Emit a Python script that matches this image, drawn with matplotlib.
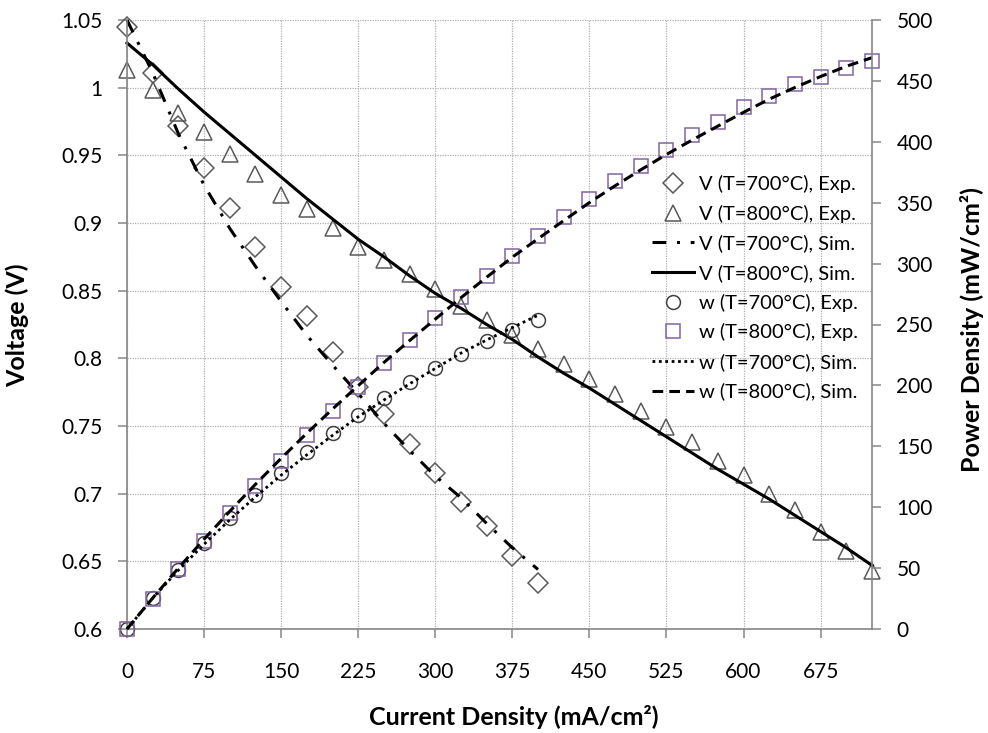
import matplotlib.pyplot as plt
from matplotlib.ticker import FuncFormatter, MultipleLocator

plt.rcParams['font.family'] = ['Lato', 'DejaVu Sans']

# current density (mA/cm2)
i_700 = [0, 25, 50, 75, 100, 125, 150, 175, 200, 225, 250, 275, 300, 325, 350, 375, 400]
i_800 = [0, 25, 50, 75, 100, 125, 150, 175, 200, 225, 250, 275, 300, 325, 350, 375, 400,
         425, 450, 475, 500, 525, 550, 575, 600, 625, 650, 675, 700, 725]

# voltage (V)
v_700_exp = [1.045, 1.011, 0.972, 0.941, 0.911, 0.882, 0.853, 0.831, 0.805, 0.779, 0.759,
             0.737, 0.715, 0.694, 0.676, 0.654, 0.634]
v_800_exp = [1.013, 0.998, 0.981, 0.967, 0.951, 0.936, 0.921, 0.910, 0.896, 0.882, 0.873,
             0.862, 0.851, 0.839, 0.828, 0.817, 0.807, 0.796, 0.785, 0.774, 0.761, 0.749,
             0.738, 0.724, 0.714, 0.700, 0.688, 0.672, 0.658, 0.643]
v_700_sim = [1.050, 1.011, 0.966, 0.928, 0.896, 0.868, 0.842, 0.817, 0.795, 0.774, 0.752,
             0.732, 0.713, 0.697, 0.678, 0.660, 0.644]
v_800_sim = [1.033, 1.017, 0.999, 0.982, 0.966, 0.950, 0.934, 0.918, 0.903, 0.888, 0.875,
             0.861, 0.848, 0.837, 0.825, 0.814, 0.801, 0.789, 0.778, 0.766, 0.754, 0.742,
             0.730, 0.718, 0.707, 0.696, 0.684, 0.672, 0.660, 0.647]

# power density (mW/cm2)
w_700_exp = [0, 25.3, 48.6, 70.6, 91.1, 110.3, 128.0, 145.4, 161.0, 175.3, 189.8, 202.7,
             214.5, 225.6, 236.6, 245.3, 253.6]
w_800_exp = [0, 25.0, 49.1, 72.5, 95.1, 117.0, 138.2, 159.3, 179.2, 198.5, 218.3, 237.1,
             255.3, 272.7, 289.8, 306.4, 322.8, 338.3, 353.3, 367.7, 380.5, 393.2, 405.9,
             416.3, 428.4, 437.5, 447.2, 453.6, 460.6, 466.2]
w_700_sim = [0, 25.3, 48.3, 69.6, 89.6, 108.5, 126.3, 143.0, 159.0, 174.2, 188.0, 201.3,
             213.9, 226.5, 237.3, 247.5, 257.6]
w_800_sim = [0, 25.4, 50.0, 73.7, 96.6, 118.8, 140.1, 160.7, 180.6, 199.8, 218.8, 236.8,
             254.4, 272.0, 288.8, 305.3, 320.4, 335.3, 350.1, 363.9, 377.0, 389.6, 401.5,
             412.9, 424.2, 435.0, 444.6, 453.6, 462.0, 469.1]

spine_col = '#868686'
grid_col = '#b0b0b0'
fs = 15

fig = plt.figure(figsize=(9.88, 7.33), dpi=100)
ax = fig.add_axes([127 / 988, 1 - 629 / 733, 745 / 988, 609 / 733])
ax2 = ax.twinx()

mk = dict(linestyle='none', markerfacecolor='none', markeredgewidth=1.1, clip_on=False)
h1, = ax.plot(i_700, v_700_exp, marker='D', markersize=10, markeredgecolor='#595959',
              label='V (T=700°C), Exp.', **mk)
h2, = ax.plot(i_800, v_800_exp, marker='^', markersize=12, markeredgecolor='#595959',
              label='V (T=800°C), Exp.', **mk)
h3, = ax.plot(i_700, v_700_sim, color='black', lw=2.2, linestyle=(0, (4.5, 3.5, 1, 3.5)),
              label='V (T=700°C), Sim.', clip_on=False)
h4, = ax.plot(i_800, v_800_sim, color='black', lw=2.2, label='V (T=800°C), Sim.',
              clip_on=False)

h5, = ax2.plot(i_700, w_700_exp, marker='o', markersize=10, markeredgecolor='#404040',
               label='w (T=700°C), Exp.', **mk)
h6, = ax2.plot(i_800, w_800_exp, marker='s', markersize=10, markeredgecolor='#8064a2',
               label='w (T=800°C), Exp.', **mk)
h7, = ax2.plot(i_700, w_700_sim, color='black', lw=2.0, linestyle=(0, (1, 1.3)),
               label='w (T=700°C), Sim.', clip_on=False)
h8, = ax2.plot(i_800, w_800_sim, color='black', lw=2.2, linestyle=(0, (3.5, 2)),
               label='w (T=800°C), Sim.', clip_on=False)

ax.set_xlim(0, 725)
ax.set_ylim(0.6, 1.05)
ax2.set_ylim(0, 500)
ax.xaxis.set_major_locator(MultipleLocator(75))
ax.yaxis.set_major_locator(MultipleLocator(0.05))
ax2.yaxis.set_major_locator(MultipleLocator(50))
ax.yaxis.set_major_formatter(FuncFormatter(lambda v, p: f'{round(v, 2):g}'))

ax.grid(True, color=grid_col, linestyle=(0, (1, 1)), linewidth=0.9)
for a in (ax, ax2):
    a.spines['top'].set_visible(False)
    for s in ('left', 'right', 'bottom'):
        a.spines[s].set_color(spine_col)
        a.spines[s].set_linewidth(1.2)
ax.spines['right'].set_visible(False)
ax2.spines['left'].set_visible(False)
ax2.spines['bottom'].set_visible(False)

ax.tick_params(axis='y', direction='out', length=6.5, width=1.1, color=spine_col,
               labelsize=fs, pad=11)
ax.tick_params(axis='x', direction='out', length=6.5, width=1.1, color=spine_col,
               labelsize=fs, pad=17)
ax2.tick_params(axis='y', direction='out', length=6.5, width=1.1, color=spine_col,
                labelsize=fs, pad=11)

fig.text(514 / 988, 1 - 717 / 733, 'Current Density (mA/cm²)', ha='center', va='center',
         fontsize=18, fontweight='bold')
fig.text(17 / 988, 1 - 325 / 733, 'Voltage (V)', ha='center', va='center', rotation=90,
         fontsize=18, fontweight='bold')
fig.text(972 / 988, 1 - 330 / 733, 'Power Density (mW/cm²)', ha='center', va='center',
         rotation=90, fontsize=18, fontweight='bold')

handles = [h1, h2, h3, h4, h5, h6, h7, h8]
ax2.legend(handles, [h.get_label() for h in handles], loc='upper left',
           bbox_to_anchor=(652 / 988, 1 - 175 / 733), bbox_transform=fig.transFigure,
           frameon=False, fontsize=14.5, numpoints=1, handlelength=2.1, handletextpad=0.25,
           labelspacing=0.58, borderpad=0, borderaxespad=0)

fig.savefig('out.png', dpi=100)
